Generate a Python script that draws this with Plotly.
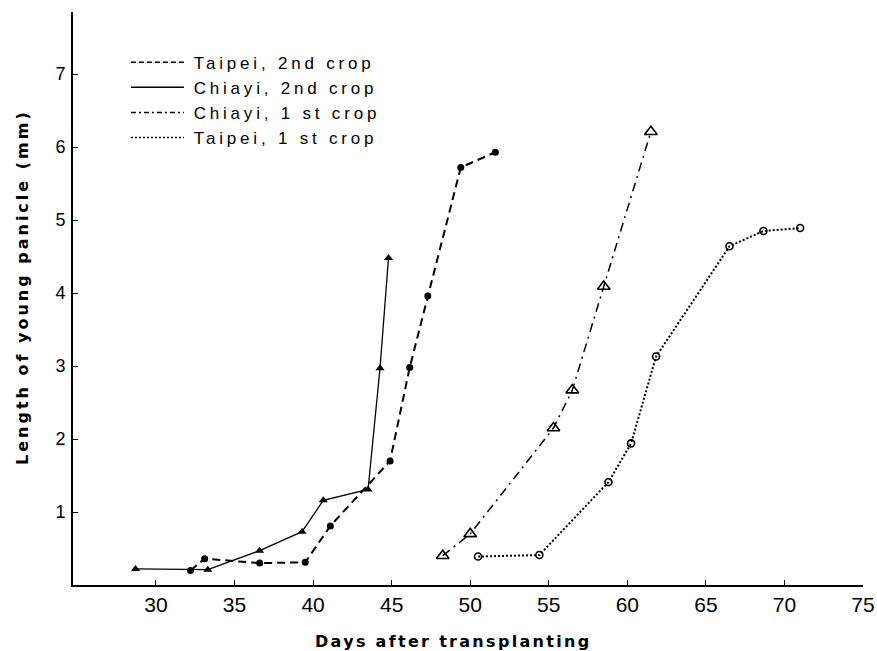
import plotly.graph_objects as go

# Taipei, 2nd crop (dashed, filled circles)
taipei2_x = [32.2, 33.1, 36.6, 39.5, 41.1, 44.9, 46.15, 47.3, 49.4, 51.6]
taipei2_y = [0.20, 0.36, 0.30, 0.31, 0.81, 1.70, 2.98, 3.96, 5.72, 5.93]

# Chiayi, 2nd crop (solid, filled triangles)
chiayi2_x = [28.7, 33.3, 36.6, 39.3, 40.65, 43.5, 44.26, 44.8]
chiayi2_y = [0.22, 0.21, 0.47, 0.73, 1.16, 1.31, 2.97, 4.48]

# Chiayi, 1st crop (dash-dot, open triangles)
chiayi1_x = [48.25, 50.0, 55.3, 56.5, 58.5, 61.5]
chiayi1_y = [0.40, 0.70, 2.15, 2.67, 4.09, 6.21]

# Taipei, 1st crop (dotted, open circles)
taipei1_x = [50.5, 54.4, 58.8, 60.24, 61.83, 66.5, 68.66, 71.0]
taipei1_y = [0.39, 0.41, 1.41, 1.94, 3.13, 4.64, 4.85, 4.89]

legend_names = ["Taipei, 2nd crop", "Chiayi, 2nd crop", "Chiayi, 1 st crop", "Taipei, 1 st crop"]
x_ticks = [30, 35, 40, 45, 50, 55, 60, 65, 70, 75]
y_ticks = [1, 2, 3, 4, 5, 6, 7]


def spaced(s, px):
    return '<span style="letter-spacing:%spx">%s</span>' % (px, s)


fig = go.Figure()

fig.add_trace(go.Scatter(x=taipei2_x, y=taipei2_y, mode="lines+markers",
                         line=dict(color="black", width=2, dash="8px,5px"),
                         marker=dict(symbol="circle", size=7, color="black"),
                         showlegend=False))
fig.add_trace(go.Scatter(x=chiayi2_x, y=chiayi2_y, mode="lines+markers",
                         line=dict(color="black", width=1.3),
                         marker=dict(symbol="triangle-up", size=8, color="black"),
                         showlegend=False))
fig.add_trace(go.Scatter(x=chiayi1_x, y=chiayi1_y, mode="lines+markers",
                         line=dict(color="black", width=1.5, dash="9px,5px,2px,5px"),
                         marker=dict(symbol="triangle-up-open", size=11, color="black",
                                     line=dict(width=1.6, color="black")),
                         showlegend=False))
fig.add_trace(go.Scatter(x=taipei1_x, y=taipei1_y, mode="lines+markers",
                         line=dict(color="black", width=2, dash="2px,2px"),
                         marker=dict(symbol="circle-open", size=7, color="black",
                                     line=dict(width=1.6, color="black")),
                         showlegend=False))

# legend-only entries (line samples without markers)
legend_dash = ["5px,3px", "solid", "5px,3px,2px,3px", "2px,2px"]
for name, dash in zip(legend_names, legend_dash):
    fig.add_trace(go.Scatter(x=[None], y=[None], mode="lines",
                             name="\u00a0" + spaced(name, 3.8),
                             line=dict(color="black", width=1.5, dash=dash),
                             showlegend=True))

fig.update_layout(
    width=877, height=651,
    margin=dict(l=73, r=14, t=12, b=66, autoexpand=False),
    paper_bgcolor="white", plot_bgcolor="white",
    showlegend=True,
    legend=dict(x=0.067, y=0.943, xanchor="left", yanchor="top",
                font=dict(family="Liberation Sans", size=17, color="black"),
                itemwidth=53, bgcolor="rgba(0,0,0,0)", tracegroupgap=0),
    xaxis=dict(range=[24.72, 75.0], tickvals=x_ticks, ticks="inside", ticklen=5,
               tickwidth=1, tickcolor="black", showgrid=False, zeroline=False,
               showline=True, linecolor="black", linewidth=2, automargin=False,
               tickfont=dict(family="Liberation Sans Narrow, Liberation Sans", size=21, color="black"),
               ticklabelstandoff=0),
    yaxis=dict(range=[0, 7.85], tickvals=y_ticks, ticks="inside", ticklen=5,
               tickwidth=1, tickcolor="black", showgrid=False, zeroline=False,
               showline=True, linecolor="black", linewidth=2, automargin=False,
               tickfont=dict(family="Liberation Sans", size=18, color="black"),
               ticklabelstandoff=2),
    annotations=[
        dict(text="<b>" + spaced("Days after transplanting", 2.3) + "</b>", xref="paper", yref="paper",
             x=(453 - 73) / 790, y=-(641 - 585) / 573, xanchor="center", yanchor="middle",
             showarrow=False, font=dict(family="DejaVu Sans", size=16, color="black")),
        dict(text="<b>" + spaced("Length of young panicle (mm)", 3) + "</b>", xref="paper", yref="paper",
             x=-(73 - 22) / 790, y=(585 - 287) / 573, xanchor="center", yanchor="middle",
             textangle=-90, showarrow=False,
             font=dict(family="DejaVu Sans", size=16, color="black")),
    ],
)

fig.write_html("out.html")
